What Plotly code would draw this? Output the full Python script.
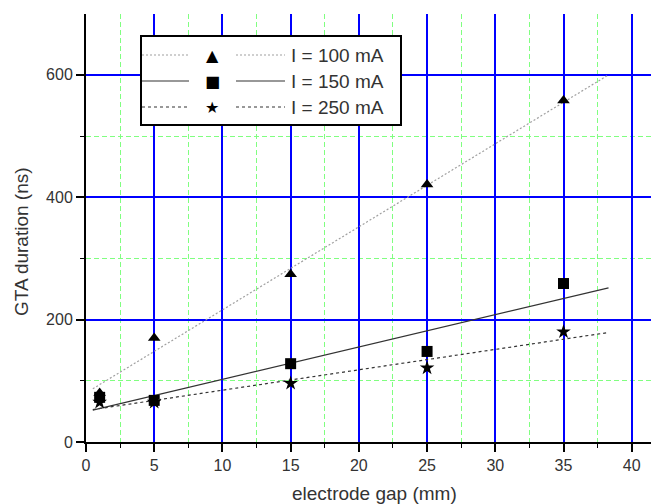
import plotly.graph_objects as go

# measured points (electrode gap in mm, GTA duration in ns)
gap_mm = [1, 5, 15, 25, 35]
dur_100mA = [80, 170, 274, 421, 558]
dur_150mA = [73, 68, 128, 148, 259]
dur_250mA = [65, 65, 96, 121, 180]

# linear fits, endpoints
fit_x = [0.5, 38.3]
fit_100mA = [87, 600]
fit_150mA = [52, 252]
fit_250mA = [53, 179]

legend_labels = ["I = 100 mA", "I = 150 mA", "I = 250 mA"]
legend_glyphs = ["\u25B2", "\u25A0", "\u2605"]

FONT = "Liberation Sans, Arial, sans-serif"
TXT = "#333333"

series = [
    (dur_100mA, fit_100mA, "triangle-up", dict(color="#a0a0a0", width=1.2, dash="2px,2px")),
    (dur_150mA, fit_150mA, "square", dict(color="#333333", width=1.2, dash="solid")),
    (dur_250mA, fit_250mA, "star", dict(color="#333333", width=1.2, dash="3px,3px")),
]

fig = go.Figure()
for (y, fit, sym, line), name in zip(series, legend_labels):
    fig.add_trace(go.Scatter(x=fit_x, y=fit, mode="lines", line=line, showlegend=False, hoverinfo="skip"))
    fig.add_trace(
        go.Scatter(
            x=gap_mm, y=y, mode="markers", name=name, showlegend=False,
            marker=dict(symbol=sym, size=11, color="black", line=dict(width=0)),
        )
    )

# page has an 8px body margin, so the figure is offset by that much
OFF = 8
# plot area in page pixels, used to place the hand drawn legend box
L, T, W, H = 86, 14, 573, 428
FIG_W, FIG_H = 659 - OFF, 504 - OFF


def px(xp, yp):
    return (xp - L) / W, (T + H - yp) / H


shapes = []
x0, y0 = px(141, 36)
x1, y1 = px(401, 125)
shapes.append(dict(type="rect", xref="paper", yref="paper", x0=x0, x1=x1, y0=y1, y1=y0,
                   fillcolor="white", line=dict(color="black", width=2), layer="above"))
annotations = []
rows_y = [55, 81, 107]
for (y, fit, sym, line), label, glyph, ry in zip(series, legend_labels, legend_glyphs, rows_y):
    for a, b in [(142, 189), (236, 285)]:
        xa, yy = px(a, ry)
        xb, _ = px(b, ry)
        shapes.append(dict(type="line", xref="paper", yref="paper", x0=xa, x1=xb, y0=yy, y1=yy,
                           line=line, layer="above"))
    gx, gy = px(212, ry)
    annotations.append(dict(xref="paper", yref="paper", x=gx, y=gy, text=glyph, showarrow=False,
                            font=dict(family="DejaVu Sans", size=16, color="black"),
                            xanchor="center", yanchor="middle"))
    tx, ty = px(289, ry)
    annotations.append(dict(xref="paper", yref="paper", x=tx, y=ty, text=label, showarrow=False,
                            font=dict(family=FONT, size=19, color=TXT),
                            xanchor="left", yanchor="middle"))

# axis titles (origin puts the y title a bit below the middle)
tx, ty = px(374, 494)
annotations.append(dict(xref="paper", yref="paper", x=tx, y=ty, text="electrode gap (mm)",
                        showarrow=False, font=dict(family=FONT, size=19, color=TXT),
                        xanchor="center", yanchor="middle"))
tx, ty = px(22, 242)
annotations.append(dict(xref="paper", yref="paper", x=tx, y=ty, text="GTA duration (ns)",
                        showarrow=False, textangle=-90, font=dict(family=FONT, size=19, color=TXT),
                        xanchor="center", yanchor="middle"))

minor_grid = dict(ticks="outside", ticklen=4, tickwidth=1, tickcolor="black",
                  showgrid=True, gridcolor="#80ff80", griddash="5px,3px", gridwidth=1)

fig.update_layout(
    width=FIG_W,
    height=FIG_H,
    margin=dict(l=L - OFF, r=FIG_W - (L - OFF) - W, t=T - OFF, b=FIG_H - (T - OFF) - H),
    paper_bgcolor="white",
    plot_bgcolor="white",
    font=dict(family=FONT, size=16, color=TXT),
    shapes=shapes,
    annotations=annotations,
    xaxis=dict(
        range=[0, 42], tick0=0, dtick=5, showline=True, linecolor="black", linewidth=2,
        ticks="outside", ticklen=8, tickwidth=1.5, tickcolor="black",
        showgrid=True, gridcolor="#0000ff", gridwidth=2, zeroline=False,
        minor=dict(dtick=2.5, **minor_grid),
        automargin=False,
    ),
    yaxis=dict(
        range=[0, 699.5], tick0=0, dtick=200, showline=True, linecolor="black", linewidth=2,
        ticks="outside", ticklen=8, tickwidth=1.5, tickcolor="black",
        showgrid=True, gridcolor="#0000ff", gridwidth=2, zeroline=False,
        minor=dict(dtick=100, **minor_grid),
        automargin=False,
    ),
)

fig.write_html("out.html")
